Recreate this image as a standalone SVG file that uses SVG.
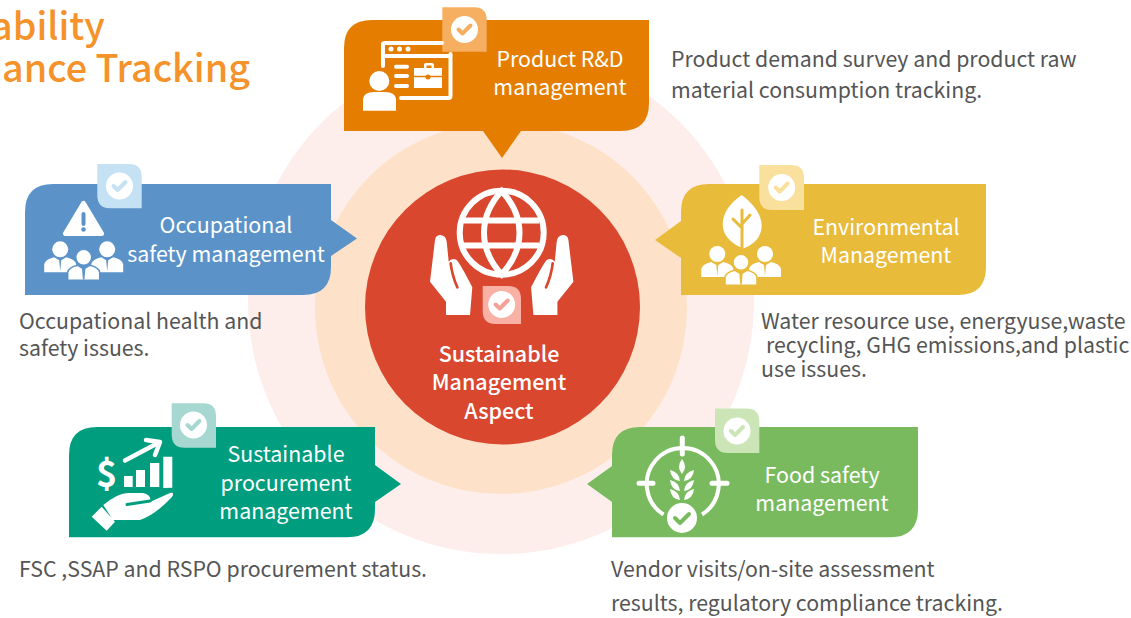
<svg xmlns="http://www.w3.org/2000/svg" width="1131" height="618" viewBox="0 0 1131 618">
<style>
text{font-family:"Noto Sans CJK TC","Noto Sans CJK SC","Noto Sans",sans-serif}
.l{fill:#fff;font-size:21.4px;text-anchor:middle}
.d{fill:#555;font-size:21.3px}
.t{fill:#f5922a;font-size:37.7px;font-weight:500}
.w{fill:#fff}
.s{fill:none;stroke:#fff;stroke-linecap:round;stroke-linejoin:round}
.ck{fill:none;stroke-width:4;stroke-linecap:round;stroke-linejoin:round}
</style>
<defs>
<g id="person"><circle cx="0" cy="0" r="8" class="w"/><path class="w" d="M-16 23V15Q-15 10-6 8L-1 11 0 22 1 11 6 8Q15 10 16 15V23Z"/></g>
</defs>
<rect width="1131" height="618" fill="#fff"/>
<g id="rings"><circle cx="501" cy="301" r="253" fill="#fdeeec"/><circle cx="501" cy="308" r="186" fill="#fde2c9"/></g>
<g id="titlegroup"><text class="t" x="-9" y="40">ability</text><text class="t" x="2" y="82">ance Tracking</text></g>
<g id="connectors"></g>
<g id="center">
<circle cx="502.500" cy="307" r="137.500" fill="#d9472f"/>
<circle cx="501.700" cy="232.700" r="42" fill="none" stroke="#fff" stroke-width="6"/>
<path fill="none" stroke="#fff" stroke-width="6" d="M501.700 191Q484 210 484 232.700T501.700 274.500Q519.500 255 519.500 232.700T501.700 191ZM464 220.500H539M464 245.500H539"/>
<g id="hands" fill="#fff">
<path id="hand" d="M435 240Q435.700 235 440.700 235 446 235.700 446.700 241.700L448.700 261.700Q451.700 257.300 456.700 260 460 263.300 472.300 287.300L470 315H446V301.700L430 281.700Z"/>
<path d="M568.400 240Q567.700 235 562.700 235 557.400 235.700 556.700 241.700L554.700 261.700Q551.700 257.300 546.700 260 543.400 263.300 531.100 287.300L533.400 315H557.400V301.700L573.400 281.700Z"/>
<path fill="none" stroke="#d9472f" stroke-width="2.700" stroke-linecap="round" d="M450.700 263.300Q452 275 457.300 287.300M552.700 263.300Q551.400 275 546.100 287.300"/>
</g>
<path d="M482.700 286H508Q521 286 521 299V324H495.700Q482.700 324 482.700 311Z" fill="#f9b0a5"/>
<circle cx="501.700" cy="304.500" r="13.500" fill="#fff"/><path class="ck" stroke="#f4a196" d="M495.700 304.500l4 4 8-8"/>
<text fill="#fff" font-size="21.500" font-weight="500" text-anchor="middle"><tspan x="499" y="362">Sustainable</tspan><tspan x="499" y="390">Management</tspan><tspan x="499" y="419">Aspect</tspan></text>
</g>
<g id="product">
<path fill="#e57e00" d="M344 131V48Q344 20 372 20H649V103Q649 131 621 131H521L502 158 483 131Z"/>
<path d="M442.300 7.300H474Q486.700 7.300 486.700 20V51.700H442.300Z" fill="#f6ae60"/>
<circle cx="464.500" cy="29.500" r="13.500" fill="#fff"/><path class="ck" stroke="#f6ae60" d="M458.500 29.500l4 4 8-8"/>
<path class="s" stroke-width="4" d="M383 66V44Q383 43 385 43H442M450.500 54V96Q450.500 98 448.500 98H401M383 56H450"/>
<circle class="w" cx="391" cy="49" r="2.500"/><circle class="w" cx="399.500" cy="49" r="2.500"/><circle class="w" cx="408" cy="49" r="2.500"/>
<path class="s" stroke-width="4" d="M396 66.700H407M396 76H407M396 86H407"/>
<path class="w" d="M414 68H424V65Q424 63 426 63H432Q434 63 434 65V68H442V88H414ZM426.500 68H431.500V65.500H426.500Z"/>
<path stroke="#e57e00" stroke-width="1.500" d="M414 76.500H442"/><circle fill="#e57e00" cx="428" cy="77" r="2.500"/>
<circle class="w" cx="379.300" cy="81" r="10"/><path class="w" d="M363 110.700V99Q364 92 374 92H385Q395 92 396 99V110.700Z"/>
<text class="l"><tspan x="560" y="67">Product R&amp;D</tspan><tspan x="560" y="95">management</tspan></text>
</g>
<g id="occupational">
<path fill="#5b93c9" d="M25 295V212Q25 184 53 184H331V220L357 238.500 331 256V267Q331 295 303 295Z"/>
<path d="M97.300 164H129Q141.700 164 141.700 177V208.300H110Q97.300 208.300 97.300 195.300Z" fill="#c5e2f4"/>
<circle cx="119.500" cy="186" r="13.500" fill="#fff"/><path class="ck" stroke="#c5e2f4" d="M113.500 186l4 4 8-8"/>
<path class="w" stroke="#fff" stroke-width="5" stroke-linejoin="round" d="M83.500 203.500L65.500 233.500H101.500Z"/>
<path stroke="#5b93c9" stroke-width="4" stroke-linecap="round" d="M83.500 214V224"/><circle cx="83.500" cy="229.500" r="2.300" fill="#5b93c9"/>
<use href="#person" x="60.200" y="249.300"/><use href="#person" x="107.200" y="249.300"/><use href="#person" x="83.700" y="257.300" stroke="#5b93c9" stroke-width="1.500"/>
<text class="l"><tspan x="226" y="233">Occupational</tspan><tspan x="226" y="262">safety management</tspan></text>
</g>
<g id="environmental">
<path fill="#e9bb3b" d="M681 221V212Q681 184 709 184H986V267Q986 295 958 295H681V258L655 240Z"/>
<path d="M759.300 165H791Q804 165 804 178V210H772.300Q759.300 210 759.300 197Z" fill="#fae09d"/>
<circle cx="781.700" cy="187.500" r="13.500" fill="#fff"/><path class="ck" stroke="#fae09d" d="M775.700 187.500l4 4 8-8"/>
<path class="w" d="M741.700 195Q761.500 210 761.700 226 761 242 743 248.500 723 240 722.700 224 723 208 741.700 195Z"/>
<path fill="none" stroke="#e9bb3b" stroke-width="3" stroke-linecap="round" d="M742 210V248M742 228L733 219M742 224L750 215"/>
<use href="#person" x="717.300" y="254"/><use href="#person" x="765" y="254"/><use href="#person" x="741" y="262.300" stroke="#e9bb3b" stroke-width="1.500"/>
<text class="l"><tspan x="886" y="235">Environmental</tspan><tspan x="886" y="263">Management</tspan></text>
</g>
<g id="procurement">
<path fill="#009e7f" d="M69 537.300V455Q69 427 97 427H375V465L401 484 375 502V509Q375 537.300 347 537.300Z"/>
<path d="M171.700 403.300H203Q216 403.300 216 416.300V447.700H184.700Q171.700 447.700 171.700 434.700Z" fill="#a6d8d1"/>
<circle cx="193.500" cy="425" r="13.500" fill="#fff"/><path class="ck" stroke="#a6d8d1" d="M187.500 425l4 4 8-8"/>
<text fill="#fff" font-size="36" font-weight="700" x="96" y="487">$</text>
<path class="w" d="M124 476h8.700v11H124zM136 470h9v17h-9zM150 463h9.300v24H150zM163.300 456.700h9v31l-9 .3z"/>
<path class="s" stroke-width="4.500" d="M125 460.500L158 443M146 440L160 442 155 455"/>
<path class="w" d="M101.700 506.700L115 521.700 106.700 530.700 91.700 516.700ZM103.300 505Q118 493 128 493H143Q152 495 150 502L170 493Q175 492 172 497 155 515 140 520H113Z"/>
<path fill="none" stroke="#009e7f" stroke-width="3" stroke-linecap="round" d="M127 504.500L150 501"/>
<text class="l"><tspan x="286" y="462">Sustainable</tspan><tspan x="286" y="491">procurement</tspan><tspan x="286" y="519">management</tspan></text>
</g>
<g id="food">
<path fill="#7aba5f" d="M612 466V455Q612 427 640 427H918V509Q918 537.300 890 537.300H612V502L587 484Z"/>
<path d="M715 408.500H746.300Q759.300 408.500 759.300 421.500V453H728Q715 453 715 440Z" fill="#cbe5b7"/>
<circle cx="737" cy="431" r="13.500" fill="#fff"/><path class="ck" stroke="#cbe5b7" d="M731 431l4 4 8-8"/>
<path fill="none" stroke="#fff" stroke-width="4" d="M663.500 514.500A36 36 0 1 1 702 514.500"/>
<path class="s" stroke-width="5" d="M682.300 438V454M639 483.300H653M712 483.300H727"/>
<circle class="w" cx="682" cy="518" r="15"/><path class="ck" stroke="#7aba5f" d="M675 518l5 5 9-9"/>
<path class="w" d="M682 459Q688 467 682 474 676 467 682 459ZM670 470Q679 472 680 481 671 480 670 470ZM694 470Q685 472 684 481 693 480 694 470ZM670 480Q679 482 680 491 671 490 670 480ZM694 480Q685 482 684 491 693 490 694 480ZM670 489Q679 491 680 500 671 499 670 489ZM694 489Q685 491 684 500 693 499 694 489Z"/>
<text class="l"><tspan x="822" y="483">Food safety</tspan><tspan x="822" y="511">management</tspan></text>
</g>
<g id="descriptions">
<text class="d"><tspan x="671" y="67">Product demand survey and product raw</tspan><tspan x="671" y="98">material consumption tracking.</tspan></text>
<text class="d"><tspan x="19" y="329">Occupational health and</tspan><tspan x="19" y="356">safety issues.</tspan></text>
<text class="d"><tspan x="761" y="329">Water resource use, energyuse,waste</tspan><tspan x="766" y="353">recycling, GHG emissions,and plastic</tspan><tspan x="761" y="377">use issues.</tspan></text>
<text class="d" x="19" y="577">FSC ,SSAP and RSPO procurement status.</text>
<text class="d"><tspan x="611" y="577">Vendor visits/on-site assessment</tspan><tspan x="611" y="611">results, regulatory compliance tracking.</tspan></text>
</g>
</svg>
